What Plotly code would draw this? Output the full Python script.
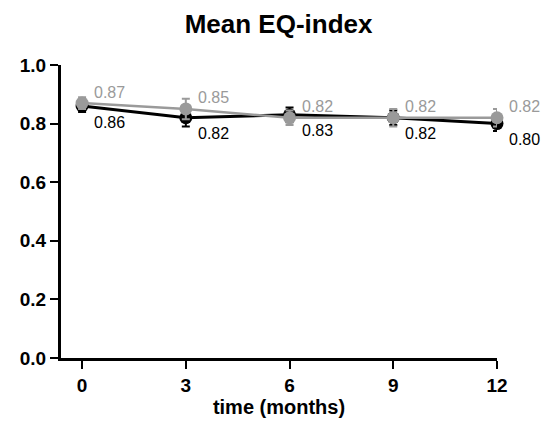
import plotly.graph_objects as go

months = [0, 3, 6, 9, 12]
black_mean = [0.86, 0.82, 0.83, 0.82, 0.80]
black_err = [0.02, 0.03, 0.025, 0.025, 0.025]
gray_mean = [0.87, 0.85, 0.82, 0.82, 0.82]
gray_err = [0.02, 0.035, 0.025, 0.03, 0.03]
y_ticks = [0.0, 0.2, 0.4, 0.6, 0.8, 1.0]

GRAY = "#9a9a9a"
fig = go.Figure()

fig.add_trace(go.Scatter(
    x=months, y=black_mean, mode="lines+markers",
    line=dict(color="black", width=3),
    marker=dict(color="black", size=13, symbol="circle"),
    error_y=dict(type="data", array=black_err, color="black", thickness=2, width=4),
    cliponaxis=False, showlegend=False,
))
fig.add_trace(go.Scatter(
    x=months, y=gray_mean, mode="lines+markers",
    line=dict(color=GRAY, width=2.5),
    marker=dict(color=GRAY, size=13, symbol="circle"),
    error_y=dict(type="data", array=gray_err, color=GRAY, thickness=2, width=4),
    cliponaxis=False, showlegend=False,
))

for x, v in zip(months, gray_mean):
    fig.add_annotation(x=x, y=v, text=f"{v:.2f}", showarrow=False,
                       xanchor="left", yanchor="middle", xshift=10, yshift=11,
                       font=dict(color=GRAY, size=16))
for x, v in zip(months, black_mean):
    fig.add_annotation(x=x, y=v, text=f"{v:.2f}", showarrow=False,
                       xanchor="left", yanchor="middle", xshift=10, yshift=-16,
                       font=dict(color="black", size=16))

fig.update_layout(
    width=541, height=431,
    margin=dict(l=61, r=44, t=65, b=73),
    paper_bgcolor="white", plot_bgcolor="white",
    font=dict(family="Liberation Sans, Arial, sans-serif", color="black"),
    title=dict(text="<b>Mean EQ-index</b>", x=0.515, xanchor="center",
               y=0.945, yanchor="middle", font=dict(size=26)),
    xaxis=dict(range=[-0.61, 12], tickvals=months,
               ticktext=[f"<b>{m}</b>" for m in months],
               showgrid=False, zeroline=False, showline=True,
               linecolor="black", linewidth=3,
               ticks="outside", ticklen=8, tickwidth=2, tickcolor="black",
               tickfont=dict(size=19),
               title=dict(text="<b>time (months)</b>", font=dict(size=20), standoff=3)),
    yaxis=dict(range=[0, 1.0], tickvals=y_ticks,
               ticktext=[f"<b>{t:.1f}</b>" for t in y_ticks],
               showgrid=False, zeroline=False, showline=True,
               linecolor="black", linewidth=3,
               ticks="outside", ticklen=8, tickwidth=2, tickcolor="black",
               tickfont=dict(size=19)),
)

fig.write_html("out.html")
